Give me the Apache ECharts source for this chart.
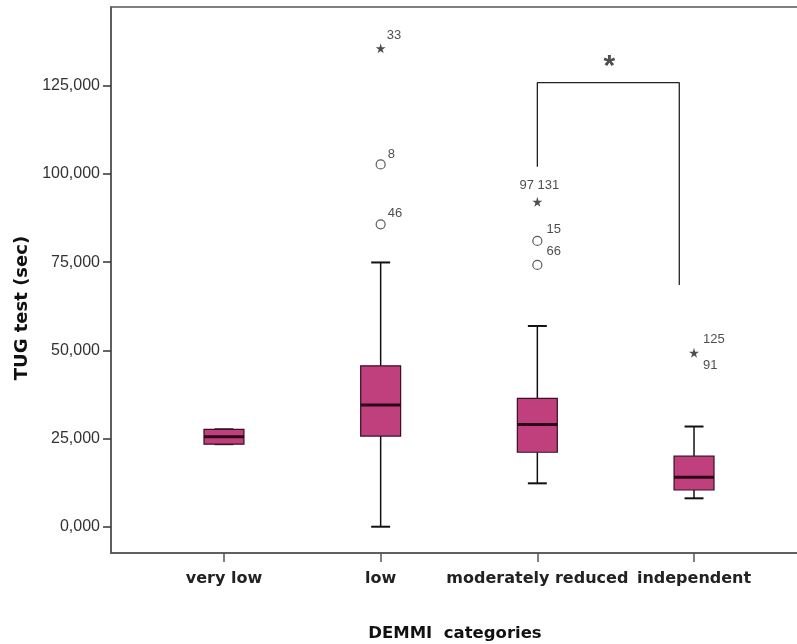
<!DOCTYPE html>
<html>
<head>
<meta charset="utf-8">
<script src="https://cdn.jsdelivr.net/npm/echarts@6/dist/echarts.min.js"></script>
<style>html,body{margin:0;padding:0;background:#fff}#c{width:797px;height:644px}</style>
</head>
<body>
<div id="c"></div>
<script>
// ---- data ----
var categories = ['very low', 'low', 'moderately reduced', 'independent'];
// [min, Q1, median, Q3, max] per category
var boxStats = [
  [23400, 23400, 25500, 27600, 27600],
  [0, 25700, 34500, 45600, 74900],
  [12300, 21100, 29000, 36400, 56900],
  [8050, 10400, 14000, 20000, 28400]
];
// outliers (circles): category index, value, case id
var outlierCat = [1, 1, 2, 2];
var outlierVal = [102700, 85700, 81000, 74200];
var outlierId = ['8', '46', '15', '66'];
// extremes (stars)
var extremeCat = [1, 2, 3];
var extremeVal = [135600, 92100, 49300];
var extremeId = ['33', '97 131', '125\n\n91'];
var yTicks = [0, 25000, 50000, 75000, 100000, 125000];
var xTicks = [0, 1, 2, 3];
// significance bracket (data units)
var bracketX = [2, 2, 2.906, 2.906];
var bracketY = [102000, 125850, 125850, 68500];
var sigPos = [2.46, 132000];

// ---- styles ----
var outlierLabelStyle = [
  {position: 'right', distance: 2, offset: [0, -10]},
  {position: 'right', distance: 2, offset: [0, -11]},
  {position: 'right', distance: 4, offset: [0, -12]},
  {position: 'right', distance: 4, offset: [0, -14]}
];
var extremeLabelStyle = [
  {position: 'right', distance: 1, offset: [0, -13]},
  {position: 'top', distance: 5, offset: [2, 0]},
  {position: 'right', distance: 4, offset: [0, 0], lineHeight: 13}
];
var starPath = 'path://M50,0 L61,35 L98,35 L68,57 L79,91 L50,70 L21,91 L32,57 L2,35 L39,35 Z';
var boxColor = '#C0407E';
var frameColor = '#555';
var boldFont = 'DejaVu Sans, Verdana, sans-serif';

var chart = echarts.init(document.getElementById('c'));

var boxData = boxStats.map(function (s, i) { return [i].concat(s); });
var outlierData = outlierVal.map(function (v, i) {
  return {value: [outlierCat[i], v], label: Object.assign({show: true, formatter: outlierId[i]}, outlierLabelStyle[i])};
});
var extremeData = extremeVal.map(function (v, i) {
  return {value: [extremeCat[i], v], label: Object.assign({show: true, formatter: extremeId[i]}, extremeLabelStyle[i])};
});
var bracketData = bracketX.map(function (x, i) { return [x, bracketY[i]]; });

function fmtY(v) { return String(Math.round(v / 1000)) + ',000'; }

var option = {
  backgroundColor: '#fff',
  animation: false,
  textStyle: {fontFamily: 'Liberation Sans, Arial, sans-serif'},
  grid: {left: 111, right: -2, top: 7, bottom: 91, outerBoundsMode: 'none', containLabel: false,
    show: true, borderColor: frameColor, borderWidth: 1.5, backgroundColor: 'transparent'},
  xAxis: {
    type: 'value', min: -0.721, max: 3.670,
    axisLine: {show: true, onZero: false, lineStyle: {color: frameColor, width: 1.5}},
    axisTick: {show: true, customValues: xTicks, length: 9, lineStyle: {color: frameColor, width: 1.5}},
    axisLabel: {show: true, customValues: xTicks, margin: 18, color: '#222', fontSize: 16, fontWeight: 'bold',
      fontFamily: boldFont, formatter: function (v) { return categories[Math.round(v)]; }},
    splitLine: {show: false},
    name: 'DEMMI  categories', nameLocation: 'middle', nameGap: 72,
    nameTextStyle: {color: '#111', fontSize: 16.5, fontWeight: 'bold', fontFamily: boldFont}
  },
  yAxis: {
    type: 'value', min: -7450, max: 147310,
    axisLine: {show: true, onZero: false, lineStyle: {color: frameColor, width: 1.5}},
    axisTick: {show: true, customValues: yTicks, length: 8, lineStyle: {color: '#333', width: 1.5}},
    axisLabel: {show: true, customValues: yTicks, margin: 11, color: '#333', fontSize: 16, formatter: fmtY},
    splitLine: {show: false}
  },
  graphic: [{
    type: 'text', x: 22, y: 308, rotation: Math.PI / 2,
    style: {text: 'TUG test (sec)', fill: '#111', font: 'bold 18px DejaVu Sans, Verdana, sans-serif', align: 'center', verticalAlign: 'middle'}
  }],
  series: [
    {
      type: 'custom',
      data: boxData,
      encode: {x: 0, y: [1, 2, 3, 4, 5]},
      renderItem: function (params, api) {
        var x = api.value(0);
        var pMin = api.coord([x, api.value(1)]);
        var pQ1 = api.coord([x, api.value(2)]);
        var pMed = api.coord([x, api.value(3)]);
        var pQ3 = api.coord([x, api.value(4)]);
        var pMax = api.coord([x, api.value(5)]);
        var hw = api.size([0.255, 0])[0] / 2;
        var cw = api.size([0.121, 0])[0] / 2;
        var cx = pMed[0];
        var ls = {stroke: '#111', lineWidth: 1.5};
        return {
          type: 'group',
          children: [
            {type: 'line', shape: {x1: cx, y1: pQ3[1], x2: cx, y2: pMax[1]}, style: ls},
            {type: 'line', shape: {x1: cx, y1: pQ1[1], x2: cx, y2: pMin[1]}, style: ls},
            {type: 'line', shape: {x1: cx - cw, y1: pMax[1], x2: cx + cw, y2: pMax[1]}, style: {stroke: '#111', lineWidth: 2}},
            {type: 'line', shape: {x1: cx - cw, y1: pMin[1], x2: cx + cw, y2: pMin[1]}, style: {stroke: '#111', lineWidth: 2}},
            {type: 'rect', shape: {x: cx - hw, y: pQ3[1], width: hw * 2, height: pQ1[1] - pQ3[1]},
              style: {fill: boxColor, stroke: '#3a1025', lineWidth: 1.2}},
            {type: 'line', shape: {x1: cx - hw, y1: pMed[1], x2: cx + hw, y2: pMed[1]}, style: {stroke: '#2a0816', lineWidth: 3}}
          ]
        };
      },
      z: 2
    },
    {
      type: 'scatter', data: outlierData, symbol: 'circle', symbolSize: 9,
      itemStyle: {color: '#fff', borderColor: '#333', borderWidth: 1.2},
      label: {color: '#222', fontSize: 13}, z: 3
    },
    {
      type: 'scatter', data: extremeData, symbol: starPath, symbolSize: 10,
      itemStyle: {color: '#222'},
      label: {color: '#222', fontSize: 13}, z: 3
    },
    {
      type: 'line', data: bracketData, symbol: 'none', showSymbol: false,
      lineStyle: {color: '#222', width: 1.3}, z: 1, silent: true
    },
    {
      type: 'scatter', data: [sigPos], symbolSize: 1, itemStyle: {color: 'rgba(0,0,0,0)'},
      label: {show: true, formatter: '*', position: 'inside', fontSize: 30, fontWeight: 'bold', color: '#222', offset: [0, 6]}, z: 3
    }
  ]
};
chart.setOption(option);
</script>
</body>
</html>
